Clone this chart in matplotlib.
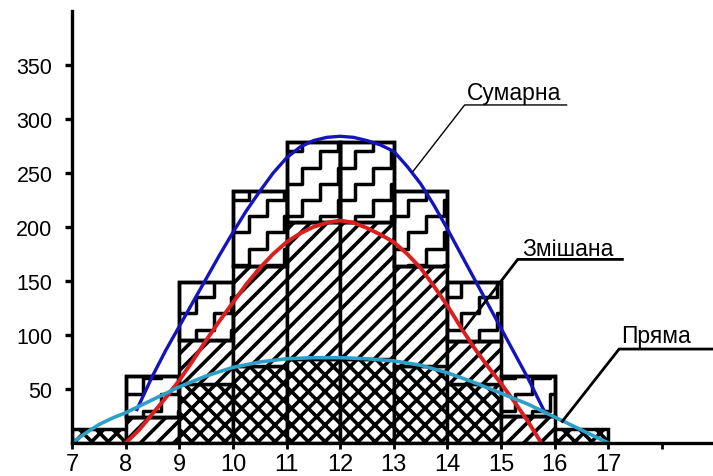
import matplotlib
matplotlib.use("Agg")
import math
import matplotlib.pyplot as plt
from matplotlib.patches import Rectangle
from matplotlib.collections import LineCollection

# hourly bars: top of each layer (direct / mixed / total)
hours = [7, 8, 9, 10, 11, 12, 13, 14, 15, 16]
direct_bar = [13, 0, 55, 71, 78, 78, 71, 55, 0, 13]
mixed_bar = [13, 24, 95, 164, 205, 205, 164, 94, 25, 13]
total_bar = [13, 62, 149, 233, 279, 279, 233, 149, 62, 13]

# smooth curves
total_x = [8.21, 8.5, 8.75, 9, 9.25, 9.5, 9.75, 10, 10.25, 10.5, 10.75, 11, 11.25, 11.5, 11.75, 12,
           12.25, 12.5, 12.75, 13, 13.25, 13.5, 13.75, 14, 14.25, 14.5, 14.75, 15, 15.25, 15.5, 15.79]
total_y = [31, 62, 86, 108, 130, 152, 174, 195, 215, 233, 250, 264, 274, 280, 283, 284,
           283, 280, 276, 270, 256, 240, 220, 198, 175, 152, 129, 106, 83, 60, 31]

mixed_x = [8.0, 8.25, 8.5, 8.75, 9, 9.25, 9.5, 9.75, 10, 10.25, 10.5, 10.75, 11, 11.25, 11.5, 11.75, 12,
           12.25, 12.5, 12.75, 13, 13.25, 13.5, 13.75, 14, 14.25, 14.5, 14.75, 15, 15.25, 15.5, 15.75]
mixed_y = [0, 12, 27, 42, 58, 76, 95, 113, 130, 147, 162, 175, 186, 194, 200, 204, 206,
           204, 199, 193, 186, 175, 162, 145, 127, 107, 88, 71, 55, 38, 20, 0]

direct_x = [7, 7.25, 7.5, 7.75, 8, 8.5, 9, 9.5, 10, 10.5, 11, 11.5, 12,
            12.5, 13, 13.5, 14, 14.5, 15, 15.5, 16, 16.5, 17]
direct_y = [0, 9, 17, 23, 28, 40, 52, 62, 70, 75, 78, 79, 79,
            78, 76, 72, 65, 56, 46, 36, 24, 12, 0]

x_ticks = list(range(7, 19))
x_labels = [str(h) for h in range(7, 18)] + [""]
y_ticks = [50, 100, 150, 200, 250, 300, 350]

plt.rcParams["hatch.linewidth"] = 2.6
plt.rcParams["font.family"] = ["Liberation Sans", "DejaVu Sans"]

STEP_X, STEP_Y = 0.33, 15.0


def stair_lines(x0, x1, y0, y1):
    # staircases rising to the right, anchored at (7, 0)
    gap = 2 * STEP_Y
    i_min = math.floor((x0 - 7) / STEP_X) - 1
    i_max = math.ceil((x1 - 7) / STEP_X) + 1
    k_min = math.floor((y0 - i_max * STEP_Y) / gap) - 1
    k_max = math.ceil((y1 - i_min * STEP_Y) / gap) + 1
    lines = []
    for k in range(k_min, k_max + 1):
        pts = []
        for i in range(i_min, i_max + 1):
            xa = 7 + i * STEP_X
            ya = k * gap + i * STEP_Y
            pts.append((xa, ya))
            pts.append((xa + STEP_X, ya))
        lines.append(pts)
    return lines


fig = plt.figure(figsize=(7.13, 4.77), dpi=100)
ax = fig.add_axes([72 / 713, 33 / 477, 641 / 713, 432 / 477])

for h, d, m, t in zip(hours, direct_bar, mixed_bar, total_bar):
    if d > 0:
        ax.add_patch(Rectangle((h, 0), 1, d, facecolor="white", edgecolor="black",
                               hatch="xx", linewidth=2.5, zorder=2))
    if m > d:
        ax.add_patch(Rectangle((h, d), 1, m - d, facecolor="white", edgecolor="black",
                               hatch="//", linewidth=2.5, zorder=2))
    if t > m:
        rect = Rectangle((h, m), 1, t - m, facecolor="white", edgecolor="black",
                         linewidth=2.5, zorder=2)
        ax.add_patch(rect)
        lc = LineCollection(stair_lines(h, h + 1, m, t), colors="black",
                            linewidths=2.5, zorder=2.5)
        ax.add_collection(lc)
        lc.set_clip_path(rect)
        ax.add_patch(Rectangle((h, m), 1, t - m, fill=False, edgecolor="black",
                               linewidth=2.5, zorder=2.6))

ax.plot(total_x, total_y, color="#1414be", linewidth=2.4, zorder=4)
ax.plot(mixed_x, mixed_y, color="#dc1e1e", linewidth=2.8, zorder=4)
ax.plot(direct_x, direct_y, color="#2da0c8", linewidth=2.6, zorder=5)

# labels with leader lines
ax.text(14.37, 318.5, "Сумарна", fontsize=16.5, ha="left", va="baseline", zorder=6)
ax.plot([13.35, 14.32, 16.22], [251, 313, 313], color="black", linewidth=1.0, zorder=6)

ax.text(15.4, 174, "Змішана", fontsize=16.5, ha="left", va="baseline", zorder=6)
ax.plot([14.32, 15.31, 17.26], [106, 170, 170], color="black", linewidth=2.0, zorder=6)

ax.text(17.24, 93.5, "Пряма", fontsize=16.5, ha="left", va="baseline", zorder=6)
ax.plot([16.14, 17.2, 19.0], [20, 87, 87], color="black", linewidth=2.0, zorder=6,
        clip_on=False)

ax.set_xlim(7, 18.95)
ax.set_ylim(0, 400)
ax.spines["top"].set_visible(False)
ax.spines["right"].set_visible(False)
ax.spines["left"].set_linewidth(2.4)
ax.spines["bottom"].set_linewidth(2.4)
ax.spines["left"].set_zorder(7)
ax.spines["bottom"].set_zorder(7)

ax.set_xticks(x_ticks)
ax.set_xticklabels(x_labels, fontsize=17)
ax.set_yticks(y_ticks)
ax.set_yticklabels([str(v) for v in y_ticks], fontsize=15.5)
ax.tick_params(axis="x", direction="out", length=4, width=2, pad=3)
ax.tick_params(axis="y", direction="out", length=5, width=2.4, pad=9)

plt.savefig("out.png", dpi=100, facecolor="white")
